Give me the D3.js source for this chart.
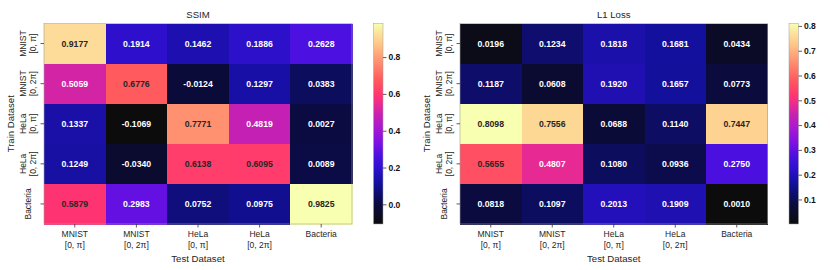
<!DOCTYPE html>
<html>
<head>
<meta charset="utf-8">
<script src="https://cdn.jsdelivr.net/npm/d3@7"></script>
<style>
  body { margin: 0; background: white; }
  text { font-family: "Liberation Sans", Arial, sans-serif; }
</style>
</head>
<body>
<svg id="chart" width="830" height="270"></svg>
<script>
// train / test datasets (label lines)
var trainLabels = [["MNIST", "[0, π]"], ["MNIST", "[0, 2π]"], ["HeLa", "[0, π]"], ["HeLa", "[0, 2π]"], ["Bacteria"]];
var testLabels = [["MNIST", "[0, π]"], ["MNIST", "[0, 2π]"], ["HeLa", "[0, π]"], ["HeLa", "[0, 2π]"], ["Bacteria"]];

var ssim = [
    [0.9177, 0.1914, 0.1462, 0.1886, 0.2628],
    [0.5059, 0.6776, -0.0124, 0.1297, 0.0383],
    [0.1337, -0.1069, 0.7771, 0.4819, 0.0027],
    [0.1249, -0.0340, 0.6138, 0.6095, 0.0089],
    [0.5879, 0.2983, 0.0752, 0.0975, 0.9825]
];
var l1 = [
    [0.0196, 0.1234, 0.1818, 0.1681, 0.0434],
    [0.1187, 0.0608, 0.1920, 0.1657, 0.0773],
    [0.8098, 0.7556, 0.0688, 0.1140, 0.7447],
    [0.5655, 0.4807, 0.1080, 0.0936, 0.2750],
    [0.0818, 0.1097, 0.2013, 0.1909, 0.0010]
];
var ssimTicks = [0.0, 0.2, 0.4, 0.6, 0.8];
var l1Ticks = [0.1, 0.2, 0.3, 0.4, 0.5, 0.6, 0.7, 0.8];

// colormap stops (black -> blue -> magenta -> red -> pale yellow)
var cmapT = [0, 0.1, 0.2, 0.28, 0.34, 0.4, 0.48, 0.54, 0.6, 0.64, 0.72, 0.81, 0.9, 0.94, 1];
var cmapC = ["#0c0c0c", "#0b0b40", "#12109a", "#3010d0", "#4c10e0", "#7a10e4", "#aa18d0", "#c420b4",
             "#ec2a90", "#ff3470", "#ff5a5e", "#ff9070", "#ffc888", "#fcdc98", "#f8ffb0"];
var cmap = d3.scaleLinear().domain(cmapT).range(cmapC).interpolate(d3.interpolateRgb).clamp(true);

var svg = d3.select("#chart");
var defs = svg.append("defs");

function heatmap(opts) {
    var data = opts.data;
    var flat = d3.merge(data);
    var vmin = d3.min(flat), vmax = d3.max(flat);
    var color = d3.scaleLinear().domain([vmin, vmax]).range([0, 1]);

    var x = d3.scaleBand().domain(d3.range(testLabels.length)).range([opts.left, opts.left + opts.w]);
    var y = d3.scaleBand().domain(d3.range(trainLabels.length)).range([opts.top, opts.top + opts.h]);

    var g = svg.append("g");

    var cells = [];
    data.forEach(function(row, i) {
        row.forEach(function(v, j) { cells.push({ r: i, c: j, v: v }); });
    });

    g.selectAll("rect.cell")
        .data(cells)
        .enter()
        .append("rect")
        .attr("x", d => x(d.c))
        .attr("y", d => y(d.r))
        .attr("width", x.bandwidth() + 0.5)
        .attr("height", y.bandwidth() + 0.5)
        .attr("shape-rendering", "crispEdges")
        .attr("fill", d => cmap(color(d.v)));

    g.selectAll("text.val")
        .data(cells)
        .enter()
        .append("text")
        .attr("x", d => x(d.c) + x.bandwidth() / 2)
        .attr("y", d => y(d.r) + y.bandwidth() / 2)
        .attr("dy", "0.35em")
        .attr("text-anchor", "middle")
        .style("font-size", "8.7px")
        .style("font-weight", "bold")
        .attr("fill", d => color(d.v) > 0.61 ? "#262626" : "white")
        .text(d => d.v.toFixed(4));

    g.append("rect")
        .attr("x", opts.left).attr("y", opts.top)
        .attr("width", opts.w).attr("height", opts.h)
        .attr("fill", "none").attr("stroke", "#a0a0a0").attr("stroke-width", 0.6);

    // y ticks
    trainLabels.forEach(function(lines, i) {
        var cy = y(i) + y.bandwidth() / 2;
        g.append("line")
            .attr("x1", opts.left - 3.5).attr("x2", opts.left)
            .attr("y1", cy).attr("y2", cy)
            .attr("stroke", "#333").attr("stroke-width", 0.8);
        var cx = opts.left - 16;
        var t = g.append("text")
            .attr("transform", "translate(" + cx + "," + cy + ") rotate(-90)")
            .attr("text-anchor", "middle")
            .style("font-size", "8.5px")
            .attr("fill", "#262626");
        var n = lines.length;
        lines.forEach(function(s, k) {
            t.append("tspan")
                .attr("x", 0)
                .attr("y", (k - (n - 1) / 2) * 10.4)
                .attr("dy", "0.35em")
                .text(s);
        });
    });

    // x ticks
    testLabels.forEach(function(lines, j) {
        var cx = x(j) + x.bandwidth() / 2;
        var by = opts.top + opts.h;
        g.append("line")
            .attr("x1", cx).attr("x2", cx)
            .attr("y1", by).attr("y2", by + 3.5)
            .attr("stroke", "#333").attr("stroke-width", 0.8);
        var t = g.append("text")
            .attr("text-anchor", "middle")
            .style("font-size", "8.5px")
            .attr("fill", "#262626");
        lines.forEach(function(s, k) {
            t.append("tspan")
                .attr("x", cx)
                .attr("y", by + 13.3 + k * 10.6)
                .text(s);
        });
    });

    // titles
    g.append("text")
        .attr("x", opts.left + opts.w / 2).attr("y", opts.top - 6)
        .attr("text-anchor", "middle")
        .style("font-size", "9.6px")
        .attr("fill", "#262626")
        .text(opts.title);

    g.append("text")
        .attr("x", opts.left + opts.w / 2).attr("y", 261.5)
        .attr("text-anchor", "middle")
        .style("font-size", "9.6px")
        .attr("fill", "#262626")
        .text("Test Dataset");

    g.append("text")
        .attr("transform", "translate(" + (opts.left - 30) + "," + (opts.top + opts.h / 2) + ") rotate(-90)")
        .attr("text-anchor", "middle")
        .style("font-size", "9.6px")
        .attr("fill", "#262626")
        .text("Train Dataset");

    // colorbar
    var gid = "grad" + opts.id;
    var grad = defs.append("linearGradient")
        .attr("id", gid)
        .attr("x1", 0).attr("y1", 1).attr("x2", 0).attr("y2", 0);
    grad.selectAll("stop")
        .data(cmapT)
        .enter()
        .append("stop")
        .attr("offset", d => d)
        .attr("stop-color", (d, i) => cmapC[i]);

    var cy = d3.scaleLinear().domain([vmin, vmax]).range([opts.top + opts.h, opts.top]);
    g.append("rect")
        .attr("x", opts.cbx).attr("y", opts.top)
        .attr("width", 9.5).attr("height", opts.h)
        .attr("fill", "url(#" + gid + ")")
        .attr("stroke", "#a0a0a0").attr("stroke-width", 0.5);

    var axis = d3.axisRight(cy).tickValues(opts.ticks).tickFormat(d3.format(".1f")).tickSize(3.5).tickPadding(2);
    var ax = g.append("g")
        .attr("transform", "translate(" + (opts.cbx + 9.5) + ",0)")
        .call(axis);
    ax.select(".domain").remove();
    ax.selectAll("line").attr("stroke", "#333").attr("stroke-width", 0.8);
    ax.selectAll("text")
        .style("font-size", "8.5px")
        .style("font-weight", "bold")
        .style("font-family", "'Liberation Sans', Arial, sans-serif")
        .attr("fill", "#111");
}

heatmap({ id: 1, data: ssim, title: "SSIM", left: 44, top: 23.5, w: 308, h: 200.5, cbx: 373.5, ticks: ssimTicks });
heatmap({ id: 2, data: l1, title: "L1 Loss", left: 460, top: 23.5, w: 307.5, h: 200.5, cbx: 789, ticks: l1Ticks });
</script>
</body>
</html>
